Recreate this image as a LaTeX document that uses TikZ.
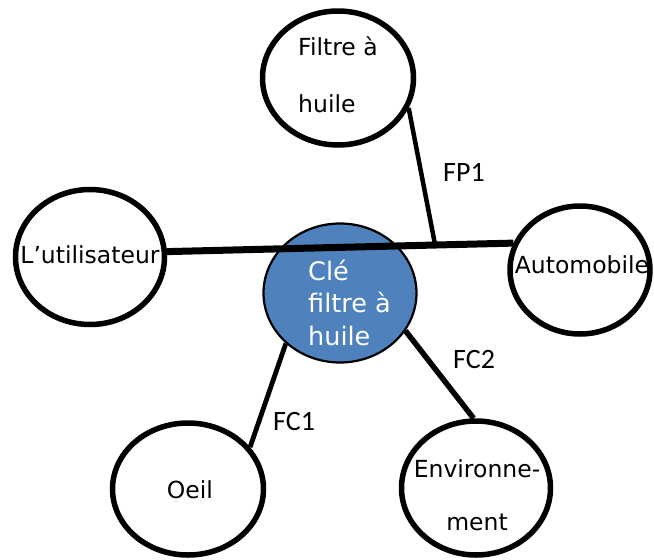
\documentclass[tikz,border=0pt]{standalone}
\usepackage{fontspec}
\setmainfont{DejaVu Sans}
\newfontfamily\labelfont{Carlito}
\usetikzlibrary{shapes.geometric,calc}
\definecolor{cleblue}{RGB}{79,129,189}
\tikzset{
  actor/.style={
    ellipse,
    draw=black,
    fill=white,
    line width=5.5pt,
    inner sep=0pt,
  },
  word/.style={
    anchor=base,
    inner sep=0pt,
    font=\fontsize{23.5}{28}\selectfont,
  },
  centreword/.style={
    anchor=base west,
    inner sep=0pt,
    text=white,
    font=\fontsize{25.5}{30}\selectfont,
  },
  fonction/.style={
    anchor=base west,
    inner sep=0pt,
    font=\labelfont\fontsize{28}{32}\selectfont,
  }
}

\begin{document}
\begin{tikzpicture}[x=1pt, y=-1pt]
    \useasboundingbox (0, 0) rectangle (654, 560);

    \node[actor, minimum width=151, minimum height=134] (filtre) at (338, 78) {};
    \node[actor, minimum width=149, minimum height=135] (util) at (90, 257) {};
    \node[actor, minimum width=140, minimum height=128] (auto) at (580, 270) {};
    \node[actor, minimum width=151, minimum height=132] (oeil) at (188, 489) {};
    \node[actor, minimum width=149, minimum height=134] (env) at (476, 488) {};
    \node[ellipse, draw=black, line width=2.2pt, fill=cleblue, inner sep=0pt,
          minimum width=153, minimum height=139] (cle) at (340, 293) {};

    % liaisons
    \coordinate (jonction) at ($(util.4)!0.774!(auto.158)$);
    \draw[line width=7pt] (util.4) -- (auto.158);
    \draw[line width=4.5pt] (filtre.-23) -- (jonction);
    \draw[line width=4.8pt] (cle.223) -- (oeil.34);
    \draw[line width=5.5pt] (cle.330) -- (env.92);

    % textes
    \node[word, anchor=base west] (filtreA) at (298, 55) {Filtre à};
    \node[word, anchor=base west] (filtreB) at (298, 112) {huile};
    \node[word] (utilT) at (90, 263) {L’utilisateur};
    \node[word] (autoT) at (582, 273) {Automobile};
    \node[word] (oeilT) at (190, 498) {Oeil};
    \node[word] (envA) at (477, 477) {Environne-};
    \node[word] (envB) at (477, 530) {ment};

    \node[centreword] (cleA) at (308, 280) {Clé};
    \node[centreword] (cleB) at (308, 312) {filtre à};
    \node[centreword] (cleC) at (308, 345) {huile};

    \node[fonction] (fp1) at (443, 181) {FP1};
    \node[fonction] (fc2) at (453, 368) {FC2};
    \node[fonction] (fc1) at (273, 430) {FC1};

\end{tikzpicture}
\end{document}
